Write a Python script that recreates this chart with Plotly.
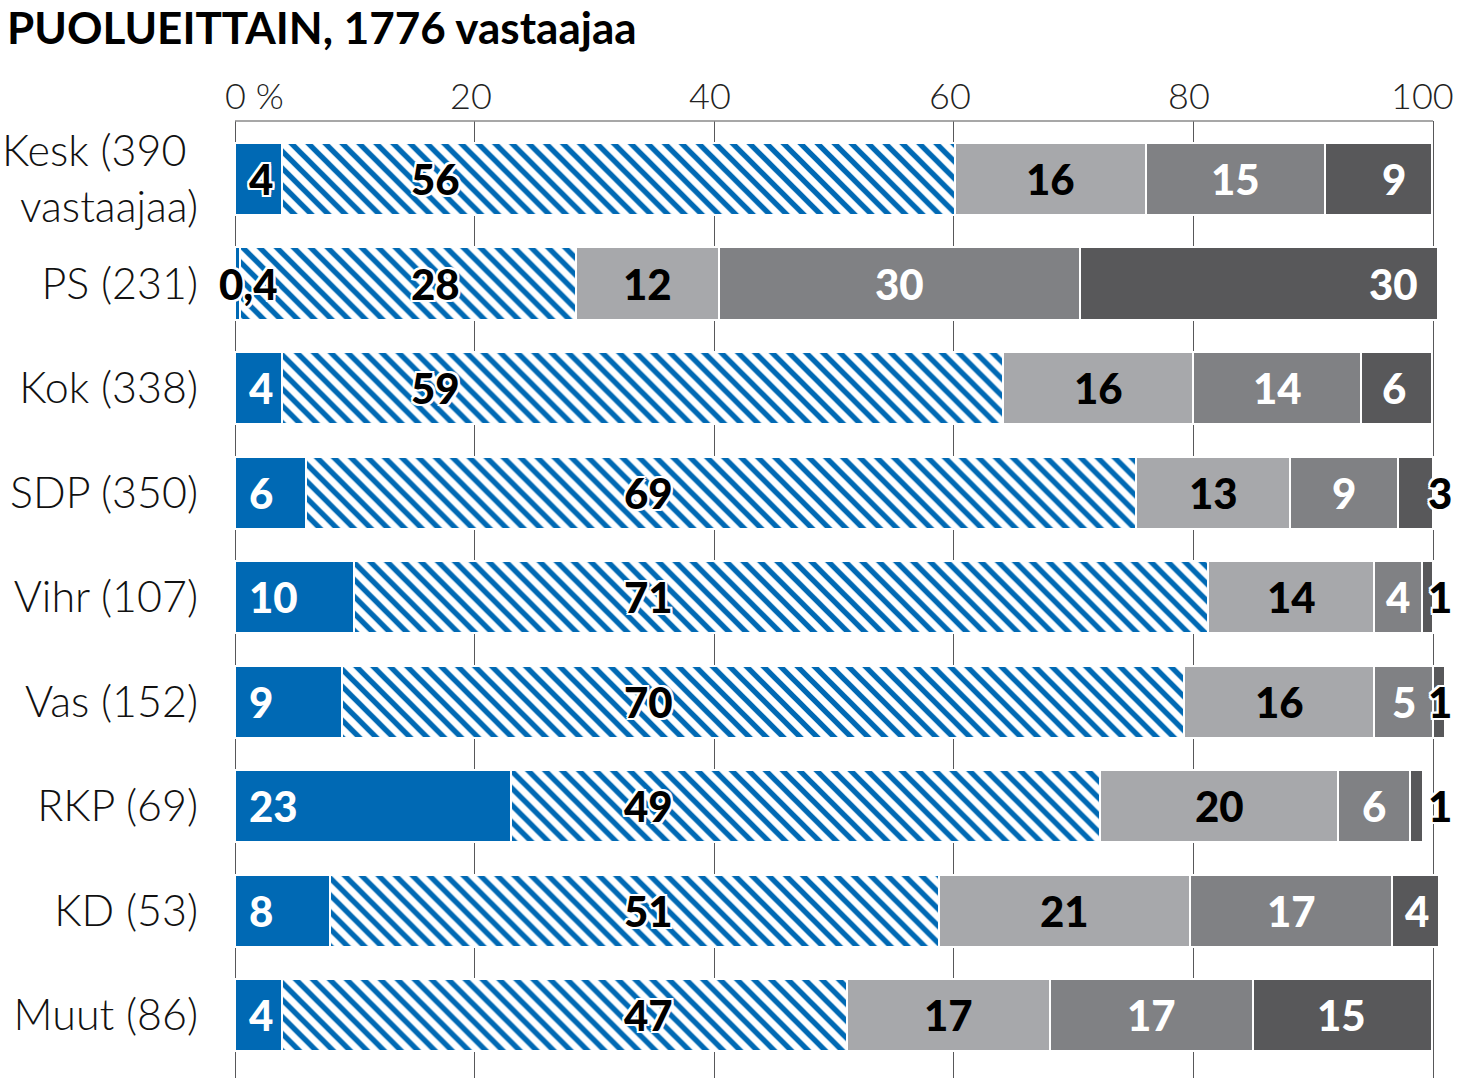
import plotly.graph_objects as go

# ---- data ----
parties = ["Kesk (390\u00a0<br> vastaajaa)", "PS (231)", "Kok (338)", "SDP (350)", "Vihr (107)",
           "Vas (152)", "RKP (69)", "KD (53)", "Muut (86)"]

solid = [3.9, 0.4, 3.9, 5.9, 9.9, 8.9, 23.0, 7.9, 3.9]
hatch = [56.2, 28.1, 60.2, 69.3, 71.3, 70.3, 49.2, 50.9, 47.2]
light = [15.9, 11.9, 15.9, 12.9, 13.9, 15.9, 19.9, 20.9, 16.9]
mid = [15.0, 30.1, 14.0, 9.0, 4.0, 4.9, 6.0, 16.9, 17.0]
dark = [8.9, 29.9, 5.9, 2.9, 0.9, 1.0, 1.1, 3.9, 14.9]

solid_lbl = ["4", "0,4", "4", "6", "10", "9", "23", "8", "4"]
hatch_lbl = ["56", "28", "59", "69", "71", "70", "49", "51", "47"]
light_lbl = ["16", "12", "16", "13", "14", "16", "20", "21", "17"]
mid_lbl = ["15", "30", "14", "9", "4", "5", "6", "17", "17"]
dark_lbl = ["9", "30", "6", "3", "1", "1", "1", "4", "15"]

tick_vals = [0, 20, 40, 60, 80, 100]
tick_text = ["0 %", "20", "40", "60", "80", "100"]

# label placement (data units) for hatched and dark segments
hatch_label_x = [16.7, 16.7, 16.7, 34.5, 34.5, 34.5, 34.5, 34.5, 34.5]
dark_label_x = [96.7, 96.7, 96.7, 100.6, 100.6, 100.6, 100.6, 98.7, 92.4]

# ---- styles ----
BLUE = "#0069b4"
LIGHT = "#a7a8ab"
MID = "#808184"
DARK = "#58585a"
FONT = "Lato"
OUTLINE = ", ".join(f"{dx}px {dy}px 0 #fff" for dx in (-2, 0, 2) for dy in (-2, 0, 2) if dx or dy)

fig = go.Figure()
sep = dict(color="white", width=2)
fig.add_bar(y=parties, x=solid, orientation="h", marker=dict(color=BLUE, line=sep), showlegend=False)
fig.add_bar(y=parties, x=hatch, orientation="h",
            marker=dict(color="white", line=sep,
                        pattern=dict(shape="\\", fgcolor=BLUE, bgcolor="white", size=12, solidity=0.45,
                                     fgopacity=1, fillmode="replace")),
            showlegend=False)
fig.add_bar(y=parties, x=light, orientation="h", marker=dict(color=LIGHT, line=sep), showlegend=False)
fig.add_bar(y=parties, x=mid, orientation="h", marker=dict(color=MID, line=sep), showlegend=False)
fig.add_bar(y=parties, x=dark, orientation="h", marker=dict(color=DARK, line=sep), showlegend=False)


def lab(x, y, text, color="black", outline=False, anchor="center"):
    fig.add_annotation(x=x, y=y, text=text, showarrow=False, xanchor=anchor, yanchor="middle",
                       font=dict(family=FONT, size=42, weight=900, color=color,
                                 shadow=OUTLINE if outline else "none"))


for i, p in enumerate(parties):
    s, h, l, m, d = solid[i], hatch[i], light[i], mid[i], dark[i]
    # solid
    if s < 1:
        lab(s / 2 + 0.9, p, solid_lbl[i], "black", True)
    else:
        lab(1.0, p, solid_lbl[i], "black" if i == 0 else "white", i == 0, anchor="left")
    # hatched
    lab(hatch_label_x[i], p, hatch_lbl[i], "black", True)
    # light
    lab(s + h + l / 2, p, light_lbl[i], "black")
    # mid
    lab(s + h + l + m / 2, p, mid_lbl[i], "white")
    # dark
    small = d < 3.5
    lab(dark_label_x[i], p, dark_lbl[i], "black" if small else "white", small)

# x tick labels (top), drawn as annotations so the end labels stay inside the page
for j, (tv, tt) in enumerate(zip(tick_vals, tick_text)):
    if j == 0:
        anchor, shift = "left", -12
    elif j == len(tick_vals) - 1:
        anchor, shift = "right", 23
    else:
        anchor, shift = "center", -4
    fig.add_annotation(x=tv, y=1, xref="x", yref="paper", text=tt, showarrow=False,
                       xanchor=anchor, yanchor="middle", xshift=shift, yshift=26,
                       font=dict(family=FONT, size=36, color="#222", weight=300))

# axis line across top (0..100)
fig.add_shape(type="line", xref="x", yref="paper", x0=0, x1=100, y0=1, y1=1,
              line=dict(color="#8a8a8a", width=1.5))

# title
fig.add_annotation(text="<b>PUOLUEITTAIN, 1776 vastaajaa</b>", xref="paper", yref="paper",
                   x=-235 / 1222, y=1, xanchor="left", yanchor="middle", yshift=94, xshift=5,
                   showarrow=False, font=dict(family=FONT, size=44, color="black", weight=900))

fig.update_layout(
    width=1460, height=1078,
    margin=dict(l=235, r=3, t=121, b=0, autoexpand=False),
    paper_bgcolor="white", plot_bgcolor="white",
    barmode="stack", bargap=0.31,
    xaxis=dict(range=[0, 102], side="top", tickvals=tick_vals, showticklabels=False,
               showgrid=True, gridcolor="#58585a", gridwidth=1,
               zeroline=True, zerolinecolor="#58585a", zerolinewidth=1,
               showline=False, ticks="", automargin=False, fixedrange=True),
    yaxis=dict(range=[8.60, -0.555], showgrid=False, ticks="", showline=False,
               tickfont=dict(family=FONT, size=43, color="#111", weight=300),
               ticklabelstandoff=36, automargin=False, fixedrange=True),
)

fig.write_html("out.html", config={"displayModeBar": False},
               post_script="document.body.style.margin='0';document.body.style.overflow='hidden';")
